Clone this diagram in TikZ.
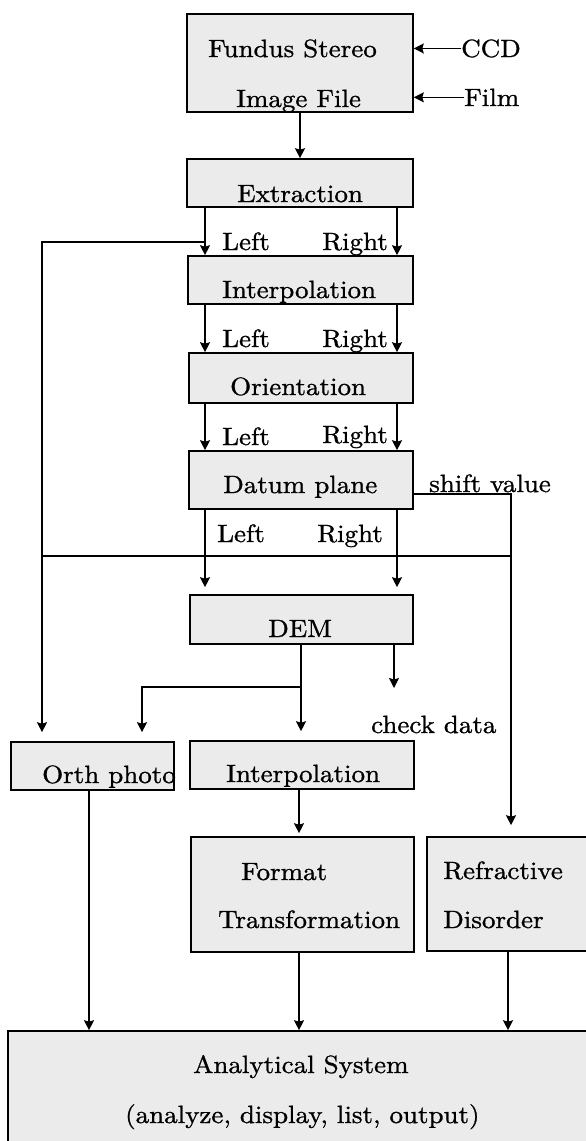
\documentclass[tikz,border=0pt]{standalone}
\usepackage{fontspec}
\setmainfont{lmroman10-regular}[Extension=.otf,FakeStretch=1.08,FakeBold=1]
\usetikzlibrary{arrows.meta,calc}
\begin{document}
\begin{tikzpicture}[x=1pt,y=-1pt,
  box/.style={draw,line width=1.6pt,fill=black!8,inner sep=0pt},
  txt/.style={anchor=base west,inner sep=0pt,font=\fontsize{25}{29}\selectfont},
  conn/.style={line width=1.3pt},
  arr/.style={conn,-{Stealth[length=10pt,width=10pt,inset=1.5pt]}}]
\useasboundingbox (0,0) rectangle (586,1141);
% boxes
\node[box,minimum width=226pt,minimum height=98pt] (fundus) at (300,63) {};
\node[box,minimum width=226pt,minimum height=48pt] (extract) at (300,183) {};
\node[box,minimum width=225pt,minimum height=48pt] (interp1) at (300.5,280) {};
\node[box,minimum width=224pt,minimum height=50pt] (orient) at (301,378) {};
\node[box,minimum width=224pt,minimum height=58pt] (datum) at (301,480) {};
\node[box,minimum width=223pt,minimum height=49pt] (dem) at (301.5,619.5) {};
\node[box,minimum width=163pt,minimum height=48pt] (orth) at (92.5,766) {};
\node[box,minimum width=224pt,minimum height=48pt] (interp2) at (302,765) {};
\node[box,minimum width=223pt,minimum height=115pt] (format) at (302.5,894.5) {};
\node[box,minimum width=169pt,minimum height=114pt] (refr) at (511.5,894) {};
\node[box,minimum width=592pt,minimum height=139pt] (analyt) at (304,1100.5) {};
% texts
\node[txt] (tfun1) at (208,57) {Fundus Stereo};
\node[txt] (tfun2) at (236,107) {Image File};
\node[txt] (tccd) at (461,57) {CCD};
\node[txt] (tfilm) at (464,106) {Film};
\node[txt] (textr) at (237,202) {Extraction};
\node[txt] (tl1) at (222,250) {Left};
\node[txt] (tr1) at (322,250) {Right};
\node[txt] (tint1) at (222,298) {Interpolation};
\node[txt] (tl2) at (222,347) {Left};
\node[txt] (tr2) at (322,347) {Right};
\node[txt] (tori) at (230,395) {Orientation};
\node[txt] (tl3) at (222,445) {Left};
\node[txt] (tr3) at (322,443) {Right};
\node[txt] (tdat) at (223,493) {Datum plane};
\node[txt] (tshift) at (429,492) {shift value};
\node[txt] (tl4) at (217,542) {Left};
\node[txt] (tr4) at (317,542) {Right};
\node[txt] (tdem) at (268,637) {DEM};
\node[txt] (tcheck) at (371,733) {check data};
\node[txt] (torth) at (42,783) {Orth photo};
\node[txt] (tint2) at (226,782) {Interpolation};
\node[txt] (tfor1) at (241,880) {Format};
\node[txt] (tfor2) at (218,928) {Transformation};
\node[txt] (tref1) at (443,879) {Refractive};
\node[txt] (tref2) at (443,928) {Disorder};
\node[txt] (tana1) at (193,1073) {Analytical System};
\node[txt] (tana2) at (125,1123) {(analyze, display, list, output)};
% lane coordinates
\coordinate (L) at (205,0);
\coordinate (R) at (397,0);
\coordinate (F) at (42,0);
\coordinate (S) at (511,0);
\coordinate (O2) at (142,0);
\coordinate (Od) at (89,0);
\coordinate (Fd) at (299,0);
\coordinate (Rd) at (508,0);
\coordinate (fb) at (205,242);
\coordinate (sv) at (413,494);
\coordinate (hl) at (42,556);
\coordinate (hr) at (511,556);
\coordinate (dj) at (301,687);
\coordinate (ck) at (394,688);
% connectors
\draw[arr] (tccd.west) -- (tccd.west -| fundus.east);
\draw[arr] (tfilm.west) -- (tfilm.west -| fundus.east);
\draw[arr] (fundus.south) -- (extract.north);
\draw[arr] (extract.south -| L) -- (interp1.north -| L);
\draw[arr] (extract.south -| R) -- (interp1.north -| R);
\draw[arr] (interp1.south -| L) -- (orient.north -| L);
\draw[arr] (interp1.south -| R) -- (orient.north -| R);
\draw[arr] (orient.south -| L) -- (datum.north -| L);
\draw[arr] (orient.south -| R) -- (datum.north -| R);
\draw[arr,shorten >=7pt] (datum.south -| L) -- (dem.north -| L);
\draw[arr,shorten >=7pt] (datum.south -| R) -- (dem.north -| R);
\draw[arr,shorten >=9pt] (fb) -- (fb -| F) -- (orth.north -| F);
\draw[arr,shorten >=11pt] (sv) -- (sv -| S) -- (refr.north -| S);
\draw[conn] (hl) -- (hr);
\draw[conn] (dem.south -| dj) -- (dj);
\draw[arr,shorten >=9pt] (dj) -- (interp2.north -| dj);
\draw[arr,shorten >=9pt] (dj) -- (dj -| O2) -- (orth.north -| O2);
\draw[arr] (dem.south -| ck) -- (ck);
\draw[arr,shorten >=3pt] (interp2.south -| Fd) -- (format.north -| Fd);
\draw[arr] (orth.south -| Od) -- (analyt.north -| Od);
\draw[arr] (format.south -| Fd) -- (analyt.north -| Fd);
\draw[arr] (refr.south -| Rd) -- (analyt.north -| Rd);
\end{tikzpicture}
\end{document}
